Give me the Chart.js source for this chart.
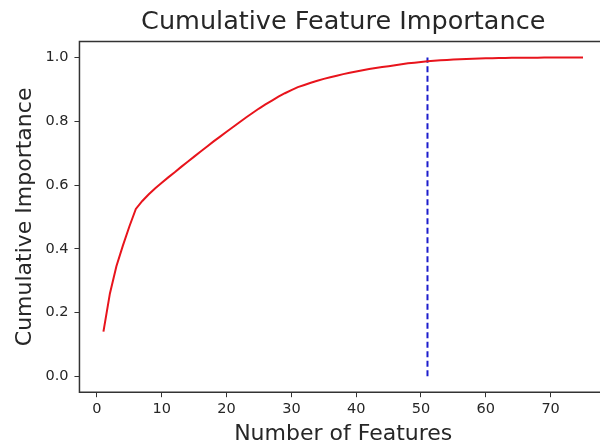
<!DOCTYPE html>
<html>
<head>
<meta charset="utf-8">
<script src="https://cdn.jsdelivr.net/npm/chart.js@4.4.1/dist/chart.umd.min.js"></script>
<style>
  html, body { margin: 0; padding: 0; background: #fff; overflow: hidden; }
  #wrap { width: 600px; height: 448px; overflow: hidden; }
</style>
</head>
<body>
<div id="wrap"><canvas id="importanceChart" width="640" height="448" style="width:640px;height:448px"></canvas></div>
<script>
// number of features (x) and cumulative importance (y)
const featureCounts = [
  1, 2, 3, 4, 5, 6, 7, 8, 9, 10, 11, 12, 13, 14, 15, 16, 17, 18, 19, 20,
  21, 22, 23, 24, 25, 26, 27, 28, 29, 30, 31, 32, 33, 34, 35, 36, 37, 38, 39, 40,
  41, 42, 43, 44, 45, 46, 47, 48, 49, 50, 51, 52, 53, 54, 55, 56, 57, 58, 59, 60,
  61, 62, 63, 64, 65, 66, 67, 68, 69, 70, 71, 72, 73, 74, 75
];
const cumulativeImportance = [
  0.140, 0.260, 0.345, 0.410, 0.470, 0.525, 0.550, 0.571, 0.590, 0.607,
  0.624, 0.640, 0.657, 0.673, 0.689, 0.705, 0.721, 0.737, 0.752, 0.767,
  0.782, 0.797, 0.812, 0.826, 0.840, 0.853, 0.865, 0.877, 0.888, 0.898,
  0.907, 0.914, 0.921, 0.927, 0.933, 0.938, 0.943, 0.948, 0.952, 0.956,
  0.960, 0.964, 0.967, 0.970, 0.973, 0.976, 0.979, 0.982, 0.984, 0.986,
  0.988, 0.990, 0.9915, 0.9925, 0.9935, 0.9945, 0.9955, 0.9963, 0.997, 0.9975,
  0.998, 0.9985, 0.9988, 0.999, 0.9992, 0.9994, 0.9996, 0.9997, 0.9998, 0.9999,
  1.000, 1.000, 1.000, 1.000, 1.000
];
// vertical marker where importance reaches ~0.99
const thresholdX = [51, 51];
const thresholdY = [0, 1];

const xTicks = [0, 10, 20, 30, 40, 50, 60, 70];
const yTicks = [0.0, 0.2, 0.4, 0.6, 0.8, 1.0];

const textColor = '#262626';
const fontFamily = '"DejaVu Sans", sans-serif';

const linePoints = featureCounts.map((x, i) => ({ x: x, y: cumulativeImportance[i] }));
const markerPoints = thresholdX.map((x, i) => ({ x: x, y: thresholdY[i] }));

// matplotlib style frame: left, top, bottom (right side is cropped off in the original)
const frameBox = {
  id: 'frameBox',
  afterDraw(chart) {
    const a = chart.chartArea;
    const c = chart.ctx;
    c.save();
    c.strokeStyle = '#333';
    c.lineWidth = 1.5;
    c.beginPath();
    c.moveTo(a.right, a.top);
    c.lineTo(a.left, a.top);
    c.lineTo(a.left, a.bottom);
    c.lineTo(a.right, a.bottom);
    c.stroke();
    c.restore();
  }
};

const ctx = document.getElementById('importanceChart').getContext('2d');
new Chart(ctx, {
  type: 'line',
  data: {
    datasets: [
      {
        data: linePoints,
        borderColor: '#e8141c',
        borderWidth: 2,
        pointRadius: 0,
        tension: 0
      },
      {
        data: markerPoints,
        borderColor: '#1c1ccc',
        borderWidth: 2,
        borderDash: [6, 3.5],
        pointRadius: 0
      }
    ]
  },
  options: {
    responsive: false,
    animation: false,
    layout: { padding: { top: 4, right: 33, bottom: 1, left: 12 } },
    plugins: {
      legend: { display: false },
      tooltip: { enabled: false },
      title: {
        display: true,
        fullSize: false,
        text: 'Cumulative Feature Importance',
        color: textColor,
        font: { family: fontFamily, size: 25.5, weight: 'normal' },
        padding: { top: 3, bottom: 4 }
      }
    },
    scales: {
      x: {
        type: 'linear',
        min: -2.7,
        max: 78.7,
        afterBuildTicks: axis => { axis.ticks = xTicks.map(v => ({ value: v })); },
        grid: { drawOnChartArea: false, drawTicks: true, tickLength: 5, color: '#333' },
        border: { display: false },
        ticks: {
          color: textColor,
          font: { family: fontFamily, size: 14.5 },
          padding: 3,
          maxRotation: 0
        },
        title: {
          display: true,
          text: 'Number of Features',
          color: textColor,
          font: { family: fontFamily, size: 22 },
          padding: { top: 0, bottom: 0 }
        }
      },
      y: {
        min: -0.05,
        max: 1.05,
        afterBuildTicks: axis => { axis.ticks = yTicks.map(v => ({ value: v })); },
        grid: { drawOnChartArea: false, drawTicks: true, tickLength: 5, color: '#333' },
        border: { display: false },
        ticks: {
          color: textColor,
          font: { family: fontFamily, size: 14.5 },
          padding: 6,
          callback: v => v.toFixed(1)
        },
        title: {
          display: true,
          text: 'Cumulative Importance',
          color: textColor,
          font: { family: fontFamily, size: 22 },
          padding: { top: 0, bottom: 1 }
        }
      }
    }
  },
  plugins: [frameBox]
});
</script>
</body>
</html>
